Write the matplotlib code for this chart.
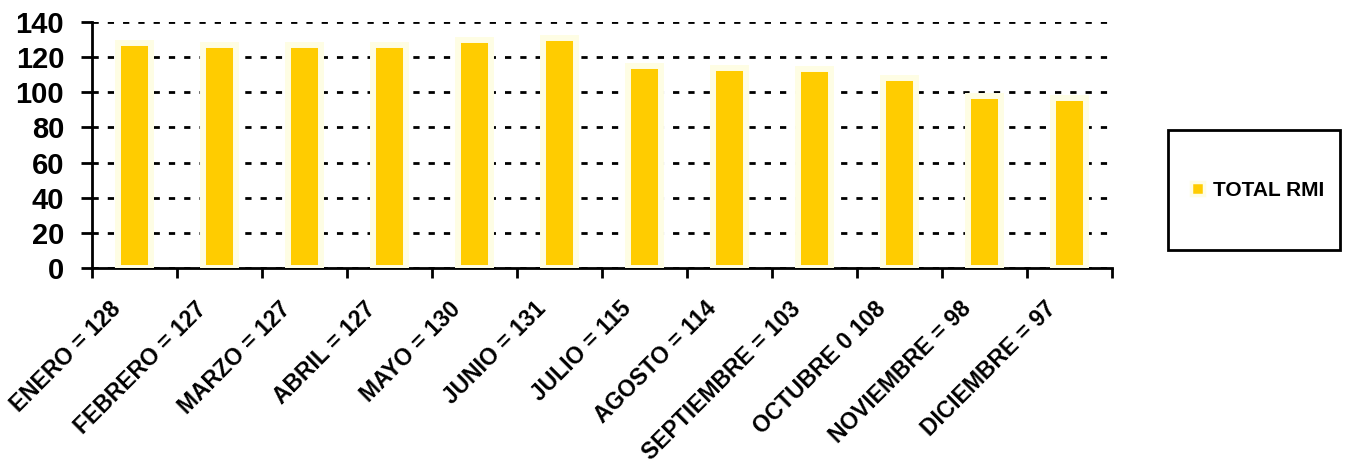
import numpy as np
import matplotlib
matplotlib.use("Agg")
import matplotlib.pyplot as plt
from matplotlib.patches import Rectangle, Patch
from matplotlib.transforms import ScaledTranslation

# datos
meses = ["ENERO = 128", "FEBRERO = 127", "MARZO = 127", "ABRIL = 127", "MAYO = 130",
         "JUNIO = 131", "JULIO = 115", "AGOSTO = 114", "SEPTIEMBRE = 103",
         "OCTUBRE 0 108", "NOVIEMBRE = 98", "DICIEMBRE = 97"]
total_rmi = [128, 127, 127, 127, 130, 131, 115, 114, 113, 108, 98, 97]
serie = "TOTAL RMI"
yticks = [0, 20, 40, 60, 80, 100, 120, 140]

plt.rcParams['font.family'] = ['Liberation Sans', 'DejaVu Sans']
plt.rcParams['lines.scale_dashes'] = False

W, H = 1347, 468
fig = plt.figure(figsize=(W / 100, H / 100), dpi=100)
ax = fig.add_axes([92 / W, 1 - 268 / H, (1112 - 92) / W, (268 - 22) / H])

x = np.arange(len(meses))
ax.bar(x, total_rmi, width=0.39, color="#FFCC00", edgecolor="#FEFDE4",
       linewidth=4.3, zorder=3)

ax.set_xlim(-0.5, len(meses) - 0.5)
ax.set_ylim(0, 140)
ax.set_yticks(yticks)
ax.set_yticklabels([str(v) for v in yticks], fontsize=21, fontweight="bold")
ax.yaxis.grid(True, color="black", linewidth=2, linestyle=(0, (4.5, 6.5)), zorder=0)
ax.set_axisbelow(True)

ax.set_xticks(np.arange(-0.5, len(meses), 1.0))
ax.set_xticklabels([])
ax.set_xticks(x, minor=True)
ax.set_xticklabels(meses, minor=True, rotation=45, ha="right", va="center",
                   rotation_mode="anchor", fontsize=16.5, fontweight="bold")
ax.tick_params(axis="x", which="minor", length=0, pad=27)
ax.tick_params(axis="x", which="major", length=7, width=2, direction="out")
ax.tick_params(axis="y", length=8, width=2, direction="out", pad=12)

# desplazar etiquetas un poco a la izquierda
offset = ScaledTranslation(-0.17, 0, fig.dpi_scale_trans)
for lbl in ax.get_xticklabels(minor=True):
    lbl.set_transform(lbl.get_transform() + offset)

for s in ["top", "right"]:
    ax.spines[s].set_visible(False)
for s in ["left", "bottom"]:
    ax.spines[s].set_linewidth(2)

# leyenda
fig.patches.append(Rectangle((1168 / W, 1 - 250 / H), 172 / W, 120 / H,
                             transform=fig.transFigure, fill=False,
                             edgecolor="black", linewidth=2))
handle = Patch(facecolor="#FFCC00", edgecolor="#FEFDE4", linewidth=2.5)
fig.legend([handle], [serie], loc="center",
           bbox_to_anchor=(1258 / W, 1 - 190 / H), frameon=False,
           handlelength=0.6, handleheight=0.6, handletextpad=0.45,
           prop={"weight": "bold", "size": 15})

fig.savefig("out.png", dpi=100)
